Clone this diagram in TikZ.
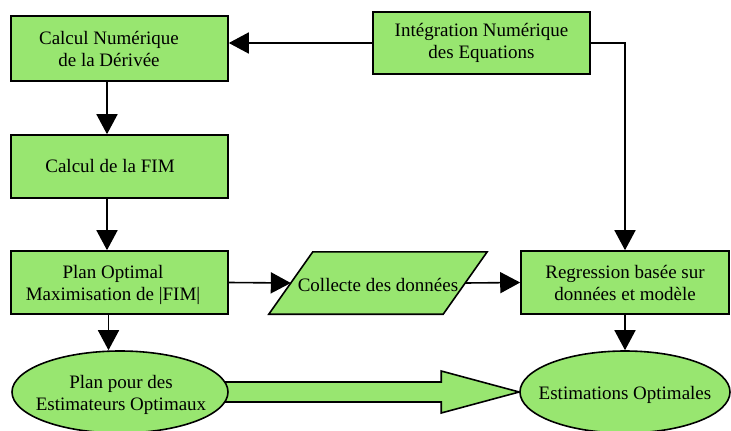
\documentclass[tikz,border=0pt]{standalone}
\usepackage{fontspec}
\setmainfont{Liberation Serif}
\usetikzlibrary{shapes.geometric,arrows.meta,backgrounds,calc}
\definecolor{boxgreen}{RGB}{152,230,112}
\begin{document}
\begin{tikzpicture}[x=1pt,y=-1pt,
  lw/.style={line width=1.6pt},
  box/.style={draw,lw,fill=boxgreen,rectangle,inner sep=0pt},
  txt/.style={font=\fontsize{19}{22}\selectfont,align=center,inner sep=0pt},
  ell/.style={draw,lw,fill=boxgreen,ellipse,inner sep=0pt},
  arr/.style={lw,-{Triangle[length=20pt,width=21pt]}},
  fat/.style={lw,fill=boxgreen,line join=miter}
]
\useasboundingbox (0,0) rectangle (731,431);

% boxes
\node[box,minimum width=217pt,minimum height=65pt] (calc) at (119.5,48.5) {};
\node[txt] (calct) at (109,49) {Calcul Numérique\\de la Dérivée};
\node[box,txt,minimum width=217pt,minimum height=62pt] (integ) at (481.5,43) {Intégration Numérique\\des Equations};
\node[box,minimum width=217pt,minimum height=63pt] (fim) at (119.5,166.5) {};
\node[txt] (fimt) at (110,166) {Calcul de la FIM};
\node[box,minimum width=217pt,minimum height=63pt] (plan) at (119.5,282.5) {};
\node[txt] (plant) at (113,285) {Plan Optimal\\Maximisation de |FIM|};
% parallelogram: invisible body node, slanted outline drawn from its corners
\node[rectangle,inner sep=0pt,minimum width=174pt,minimum height=62pt] (coll) at (378,283) {};
\draw[lw,fill=boxgreen,line join=miter] ($(coll.south west)+(-22,0)$) -- ($(coll.north west)+(22,0)$) -- ($(coll.north east)+(22,0)$) -- ($(coll.south east)+(-22,0)$) -- cycle;
\node[txt] (collt) at (378,285) {Collecte des données};
\node[box,txt,minimum width=208pt,minimum height=63pt] (regr) at (625,282.5) {Regression basée sur\\données et modèle};
\node[ell,minimum width=216pt,minimum height=82pt] (pell) at (120,392) {};
\node[txt] (pellt) at (121,395) {Plan pour des\\Estimateurs Optimaux};
\node[ell,minimum width=210pt,minimum height=82pt] (eell) at (625,392) {};
\node[txt] (eellt) at (625,395) {Estimations Optimales};

% connectors
\draw[arr] (integ.west) -- (integ.west -| calc.east);
\draw[arr] (integ.east) -| (regr.north);
\draw[arr] ([xshift=-12.5pt]calc.south) -- ([xshift=-12.5pt]fim.north);
\draw[arr] ([xshift=-12.5pt]fim.south) -- ([xshift=-12.5pt]plan.north);
\draw[arr] ([xshift=-11pt]plan.south) -- ([xshift=-11pt]plan.south |- pell.north);
\draw[arr] (plan.east) -- (coll.west);
\draw[arr] (coll.east) -- (regr.west);
\draw[arr] (regr.south) -- (eell.north);

% fat arrow
\begin{scope}[on background layer]
\draw[fat] ($(pell.east)+(-10,-10)$) -- ($(eell.west)+(-78,-10)$) -- ($(eell.west)+(-78,-21)$) -- (eell.west) -- ($(eell.west)+(-78,21)$) -- ($(eell.west)+(-78,10)$) -- ($(pell.east)+(-10,10)$) -- cycle;
\end{scope}
\end{tikzpicture}
\end{document}
